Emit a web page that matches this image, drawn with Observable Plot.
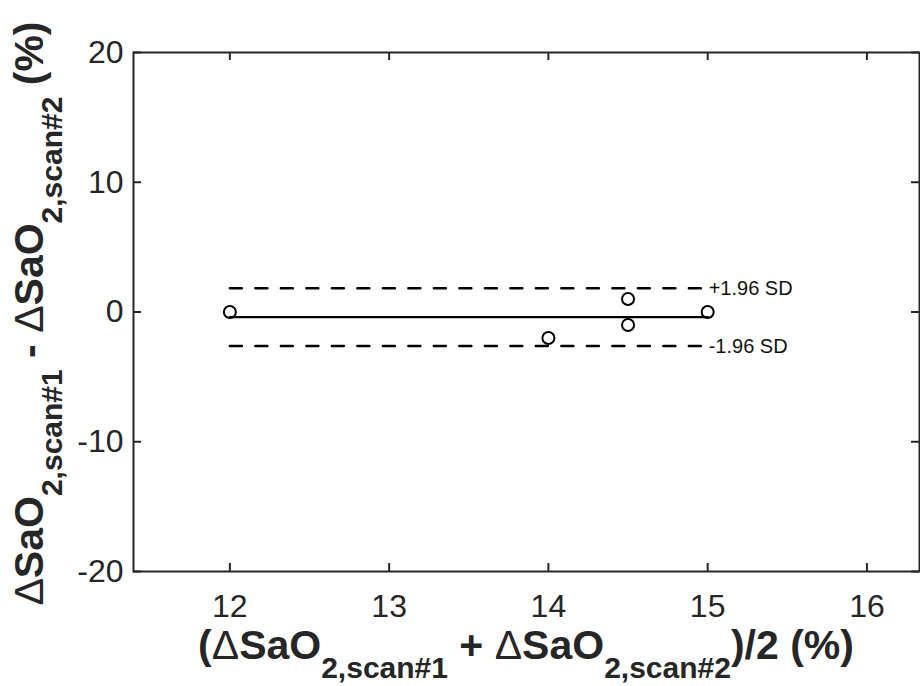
<!DOCTYPE html>
<html>
<head>
<meta charset="utf-8">
<script src="https://cdn.jsdelivr.net/npm/d3@7"></script>
<script src="https://cdn.jsdelivr.net/npm/@observablehq/plot@0.6"></script>
<style>
  html, body { margin: 0; padding: 0; background: #fff; }
  #chart svg { display: block; }
</style>
</head>
<body>
<div id="chart"></div>
<script>
// ---- data ----
const meanValues = [12, 14, 14.5, 14.5, 15];      // (ΔSaO2,scan#1 + ΔSaO2,scan#2)/2
const diffValues = [0, -2, 1, -1, 0];             // ΔSaO2,scan#1 - ΔSaO2,scan#2
const biasX = [12, 15];
const biasValue = -0.4;
const upperLoA = 1.83;
const lowerLoA = -2.63;
const loaLabels = ["+1.96 SD", "-1.96 SD"];
const xTicks = [12, 13, 14, 15, 16];
const yTicks = [-20, -10, 0, 10, 20];
const xDomain = [11.395, 16.33];
const yDomain = [-20, 20];

const W = 920, H = 686;
const mL = 133, mR = 1, mT = 52, mB = 115;
const plotW = W - mL - mR, plotH = H - mT - mB;
const ink = "#262626";
const tickLen = 8;

const points = meanValues.map((m, i) => ({x: m, y: diffValues[i]}));
const biasLine = biasX.map(x => ({x, y: biasValue}));
const upperLine = biasX.map(x => ({x, y: upperLoA}));
const lowerLine = biasX.map(x => ({x, y: lowerLoA}));
const labelData = [
  {x: biasX[1], y: upperLoA, t: loaLabels[0]},
  {x: biasX[1], y: lowerLoA, t: loaLabels[1]}
];

const chart = Plot.plot({
  width: W, height: H,
  marginLeft: mL, marginRight: mR, marginTop: mT, marginBottom: mB,
  style: {fontFamily: "'Liberation Sans', Arial, sans-serif", fontSize: "32px", color: ink, background: "#fff"},
  x: {domain: xDomain},
  y: {domain: yDomain},
  marks: [
    Plot.axisX(xTicks, {anchor: "bottom", tickSize: 0, tickPadding: 23, tickFormat: d => String(d), label: null, fill: ink}),
    Plot.axisY(yTicks, {anchor: "left", tickSize: 0, tickPadding: 10, tickFormat: d => String(d), label: null, fill: ink}),
    Plot.tickX(xTicks, {x: d => d, insetTop: plotH - tickLen, stroke: ink, strokeWidth: 2}),
    Plot.tickX(xTicks, {x: d => d, insetBottom: plotH - tickLen, stroke: ink, strokeWidth: 2}),
    Plot.tickY(yTicks, {y: d => d, insetRight: plotW - tickLen, stroke: ink, strokeWidth: 2}),
    Plot.tickY(yTicks, {y: d => d, insetLeft: plotW - tickLen, stroke: ink, strokeWidth: 2}),
    Plot.frame({stroke: ink, strokeWidth: 2}),
    Plot.line(upperLine, {x: "x", y: "y", stroke: "#000", strokeWidth: 2.5, strokeDasharray: "12,13.5"}),
    Plot.line(lowerLine, {x: "x", y: "y", stroke: "#000", strokeWidth: 2.5, strokeDasharray: "12,13.5"}),
    Plot.line(biasLine, {x: "x", y: "y", stroke: "#000", strokeWidth: 2.2}),
    Plot.dot(points, {x: "x", y: "y", r: 6, stroke: "#000", strokeWidth: 2, fill: "none"}),
    Plot.text(labelData, {x: "x", y: "y", text: "t", textAnchor: "start", dx: 1, fontSize: 20, fill: "#111"})
  ]
});

document.getElementById("chart").appendChild(chart);

// axis titles with subscripts
const svg = d3.select(chart);
const mainSize = 41, subSize = 30, subShift = 19;

function buildLabel(t, parts) {
  parts.forEach(p => {
    const ts = t.append("tspan").text(p.text);
    if (p.sub) ts.attr("font-size", subSize).attr("dy", subShift);
    if (p.up) ts.attr("dy", -subShift);
    if (p.normal) ts.attr("font-weight", "normal");
  });
}

const xl = svg.append("text")
  .attr("x", mL + plotW / 2).attr("y", 659)
  .attr("text-anchor", "middle")
  .attr("font-family", "'Liberation Sans', Arial, sans-serif")
  .attr("font-size", mainSize).attr("font-weight", "bold").attr("fill", ink);
buildLabel(xl, [
  {text: "("}, {text: "\u0394", normal: true}, {text: "SaO"},
  {text: "2,scan#1", sub: true},
  {text: " + ", up: true}, {text: "\u0394", normal: true}, {text: "SaO"},
  {text: "2,scan#2", sub: true},
  {text: ")/2 (%)", up: true}
]);

const yl = svg.append("text")
  .attr("transform", `translate(43,${mT + plotH / 2 + 2}) rotate(-90)`)
  .attr("text-anchor", "middle")
  .attr("font-family", "'Liberation Sans', Arial, sans-serif")
  .attr("font-size", mainSize).attr("font-weight", "bold").attr("fill", ink);
buildLabel(yl, [
  {text: "\u0394", normal: true}, {text: "SaO"},
  {text: "2,scan#1", sub: true},
  {text: " - ", up: true}, {text: "\u0394", normal: true}, {text: "SaO"},
  {text: "2,scan#2", sub: true},
  {text: " (%)", up: true}
]);
</script>
</body>
</html>
